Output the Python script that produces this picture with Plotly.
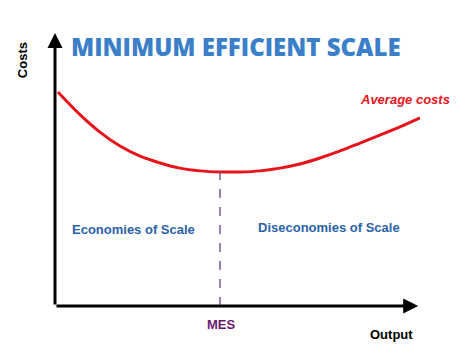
import plotly.graph_objects as go

# Average cost curve points
output_vals = [0.8, 6.9, 12.3, 17.8, 23.3, 28.8, 34.2, 39.7, 45.2, 50.7, 56.2, 61.6, 67.1, 72.6, 78.1, 83.6, 89.0, 94.5, 100]
avg_cost = [78.4, 70.0, 63.7, 58.6, 54.9, 52.4, 50.5, 49.5, 49.1, 49.1, 49.5, 50.5, 52.0, 54.2, 56.8, 59.7, 62.6, 65.6, 68.9]
mes_x = 45.2
mes_y = 49.1

fig = go.Figure()
fig.add_trace(go.Scatter(x=output_vals, y=avg_cost, mode="lines", line=dict(color="#e8141c", width=3, shape="spline"),
                         hoverinfo="skip", showlegend=False))
fig.add_trace(go.Scatter(x=[mes_x, mes_x], y=[0, mes_y], mode="lines",
                         line=dict(color="#7a5aa0", width=1.5, dash="dash"), hoverinfo="skip", showlegend=False))

# axes with arrows
fig.add_annotation(x=99.5, y=0, ax=0, ay=0, xref="x", yref="y", axref="x", ayref="y", text="",
                   showarrow=True, arrowhead=2, arrowsize=1, arrowwidth=3, arrowcolor="black")
fig.add_annotation(x=0, y=100, ax=0, ay=0, xref="x", yref="y", axref="x", ayref="y", text="",
                   showarrow=True, arrowhead=2, arrowsize=1, arrowwidth=3, arrowcolor="black")

bold = "Liberation Sans"
def label(x, y, text, size, color, family=bold, angle=0, weight=None):
    f = dict(family=family, size=size, color=color)
    if weight:
        f["weight"] = weight
    fig.add_annotation(x=x, y=y, xref="paper", yref="paper", text=text, showarrow=False, textangle=angle,
                       xanchor="center", yanchor="middle", font=f)

label(0.496, 0.949, "MINIMUM EFFICIENT SCALE", 24, "#3a7fc8", family="Open Sans", weight=800)
label(-0.09, 0.901, "<b>Costs</b>", 13, "black", angle=-90)
label(0.959, 0.755, "<b><i>Average costs</i></b>", 13, "#e8141c")
label(0.216, 0.282, "<b>Economies of Scale</b>", 13, "#2a62a8")
label(0.751, 0.286, "<b>Diseconomies of Scale</b>", 13, "#2a62a8")
label(0.455, -0.066, "<b>MES</b>", 13, "#6a1a6e")
label(0.921, -0.103, "<b>Output</b>", 13, "black")

fig.update_xaxes(range=[0, 100], visible=False, fixedrange=True)
fig.update_yaxes(range=[0, 100], visible=False, fixedrange=True)
fig.update_layout(width=474, height=355, margin=dict(l=55, r=54, t=33, b=49),
                  paper_bgcolor="white", plot_bgcolor="white", showlegend=False)
fig.write_html("out.html")
